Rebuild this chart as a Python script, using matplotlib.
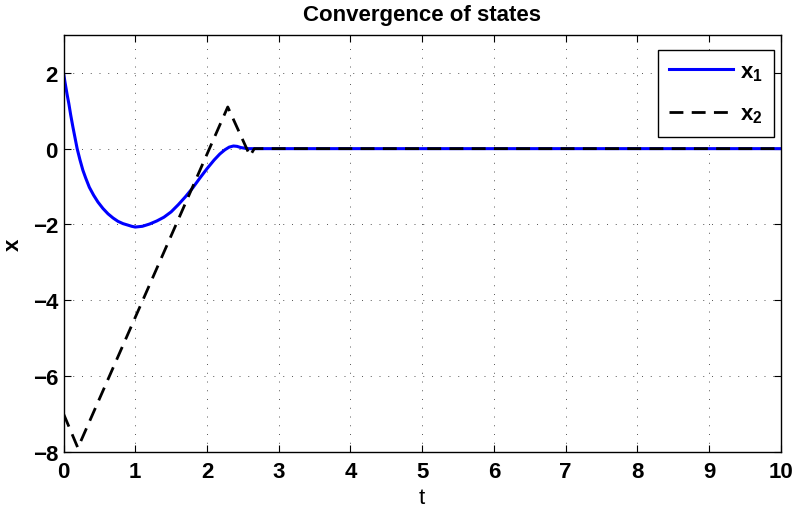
import numpy as np
import matplotlib
matplotlib.use('Agg')
import matplotlib.pyplot as plt

plt.rcParams['font.family'] = ['Liberation Sans', 'DejaVu Sans']
plt.rcParams['font.weight'] = 'bold'
plt.rcParams['mathtext.fontset'] = 'custom'
plt.rcParams['mathtext.rm'] = 'Liberation Sans:bold'
plt.rcParams['mathtext.it'] = 'Liberation Sans:bold'
plt.rcParams['mathtext.bf'] = 'Liberation Sans:bold'

# state x1: fast decay, undershoot to about -2.1, then driven back to zero
t1 = [0.0, 0.02, 0.05, 0.074, 0.1, 0.13, 0.16, 0.19, 0.23, 0.27, 0.31, 0.36,
      0.42, 0.48, 0.55, 0.62, 0.69, 0.76, 0.83, 0.9, 0.95, 1.0, 1.1, 1.2,
      1.3, 1.4, 1.5, 1.6, 1.7, 1.8, 1.9, 2.0, 2.1, 2.18, 2.25, 2.31, 2.37,
      2.42, 2.47, 2.53, 2.58, 10.0]
x1 = [2.0, 1.76, 1.43, 1.19, 0.89, 0.58, 0.29, 0.0, -0.3, -0.57, -0.78,
      -1.02, -1.23, -1.41, -1.58, -1.72, -1.83, -1.92, -1.98, -2.02, -2.05,
      -2.07, -2.05, -1.99, -1.91, -1.81, -1.67, -1.48, -1.27, -1.04, -0.78,
      -0.53, -0.30, -0.14, -0.03, 0.04, 0.07, 0.06, 0.03, 0.01, 0.0, 0.0]

# state x2: piecewise linear (sliding-mode style)
t2 = [0.0, 0.2, 2.29, 2.6, 2.66, 10.0]
x2 = [-7.0, -7.9, 1.1, -0.19, 0.0, 0.0]

fig = plt.figure(figsize=(7.96, 5.10), dpi=100)
ax = fig.add_axes([0.0798, 0.1124, 0.901, 0.817])

ax.plot(t1, x1, color='#0000ff', linewidth=2.2, label='$x_1$')
ax.plot(t2, x2, color='black', linewidth=2.0, dashes=(5, 3), label='$x_2$')

ax.set_xlim(0, 10)
ax.set_ylim(-8, 3)
ax.set_xticks(np.arange(0, 11, 1))
ax.set_yticks(np.arange(-8, 3, 2))

ax.grid(True, color='#555555', linewidth=0.7, linestyle=(0, (1, 8)))
ax.tick_params(direction='in', top=True, right=True, length=5, width=0.8,
               labelsize=16)
ax.tick_params(axis='x', pad=7)
ax.tick_params(axis='y', pad=4)
for sp in ax.spines.values():
    sp.set_linewidth(1.0)

ax.set_title('Convergence of states', fontsize=16, fontweight='bold', pad=11)
ax.set_xlabel('t', fontsize=16, fontweight='normal', labelpad=3)
ax.set_ylabel('x', fontsize=16, fontweight='bold', labelpad=6)

leg = ax.legend(loc='upper right', bbox_to_anchor=(0.990, 0.964),
                borderaxespad=0, fancybox=False, framealpha=1,
                edgecolor='black', fontsize=16, handlelength=2.9,
                labelspacing=0.95, handletextpad=0.3, borderpad=0.5)
leg.get_frame().set_linewidth(1.0)

fig.savefig('out.png', dpi=100)
